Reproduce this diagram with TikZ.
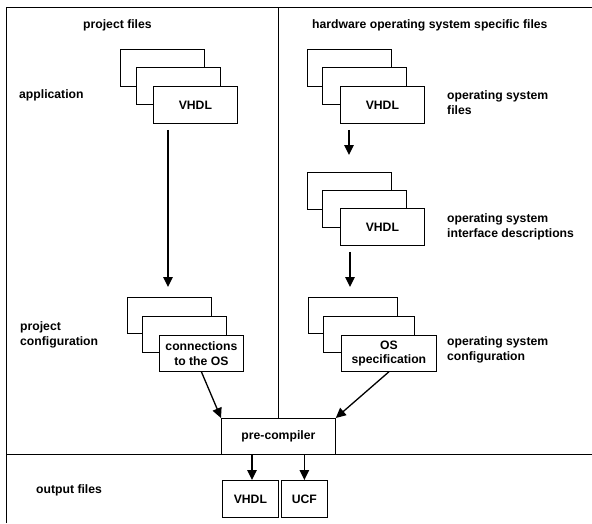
\documentclass[tikz,border=0pt]{standalone}
\usepackage{fontspec}
\setmainfont{Liberation Sans}
\usetikzlibrary{arrows.meta,calc}
\begin{document}
\begin{tikzpicture}[x=1pt,y=-1pt,
  every node/.style={font=\fontsize{12.2}{14.5}\selectfont\bfseries},
  fbox/.style={draw=black,fill=white,line width=0.8pt,inner sep=0pt,anchor=north west,
    minimum width=84pt,minimum height=37pt,align=center},
  lbl/.style={anchor=base west,inner sep=0pt,align=left},
  arr/.style={line width=1.3pt,-{Triangle[length=10pt,width=9.5pt]}},
  frame/.style={line width=1pt}]
\useasboundingbox (0,0) rectangle (592,523);
% frame lines
\coordinate (fbl) at (6,523);
\coordinate (ftl) at (6,7);
\coordinate (ftr) at (592,7);
\coordinate (dtop) at (278,7);
\coordinate (hl) at (6,454);
\coordinate (hr) at (592,454);
\draw[frame] (fbl) -- (ftl) -- (ftr);
\draw[frame] (hl) -- (hr);
% headings
\node[lbl] (t1) at (83,28) {project files};
\node[lbl] (t2) at (312,28) {hardware operating system specific files};
\node[lbl] (t3) at (19,98) {application};
\node[lbl] (t4) at (447,114) {operating system\\files};
\node[lbl] (t5) at (447,237) {operating system\\interface descriptions};
\node[lbl] (t6) at (20,345) {project\\configuration};
\node[lbl] (t7) at (447,360) {operating system\\configuration};
\node[lbl] (t8) at (36,493) {output files};
% application stack
\node[fbox] (a1) at (120,49) {};
\node[fbox] (a2) at (136,67) {};
\node[fbox] (a3) at (153,86) {VHDL};
% os files stack
\node[fbox] (r1) at (307,49) {};
\node[fbox] (r2) at (322,67) {};
\node[fbox] (r3) at (340,86) {VHDL};
% interface stack
\node[fbox] (s1) at (307,172) {};
\node[fbox] (s2) at (322,190) {};
\node[fbox] (s3) at (340,208) {VHDL};
% project config stack
\node[fbox,minimum height=36pt] (c1) at (127,297) {};
\node[fbox,minimum height=36pt] (c2) at (142,316) {};
\node[fbox,minimum height=36pt] (c3) at (159,335) {connections\\to the OS};
% os spec stack
\node[fbox,minimum height=36pt,minimum width=89pt] (o1) at (308,297) {};
\node[fbox,minimum height=36pt,minimum width=91pt] (o2) at (323,316) {};
\node[fbox,minimum height=36pt,minimum width=95pt] (o3) at (341,335) {OS\\specification};
% divider
\node[fbox,minimum width=114pt,minimum height=36pt] (pc) at (221,418) {pre-compiler};
\draw[frame] (dtop) -- (dtop |- pc.north);
% outputs
\node[fbox,minimum width=56pt] (ov) at (222,480) {VHDL};
\node[fbox,minimum width=46pt] (uf) at (281,480) {UCF};
% arrows
\draw[arr] ([xshift=15pt,yshift=-6pt]a3.south west) -- ([xshift=15pt,yshift=10pt]a3.south west |- c1.north);
\draw[arr] ([xshift=9pt,yshift=-6pt]r3.south west) -- ([xshift=9pt,yshift=17pt]r3.south west |- s1.north);
\draw[arr] ([xshift=10pt,yshift=-6pt]s3.south west) -- ([xshift=10pt,yshift=10pt]s3.south west |- o1.north);
\draw[arr] (c3.south) -- (pc.north west);
\draw[arr] (o3.south) -- (pc.north east);
\draw[arr] ([xshift=31pt]pc.south west) -- ([xshift=31pt]pc.south west |- ov.north);
\draw[arr] (pc.south -| uf.north) -- (uf.north);
\end{tikzpicture}
\end{document}
